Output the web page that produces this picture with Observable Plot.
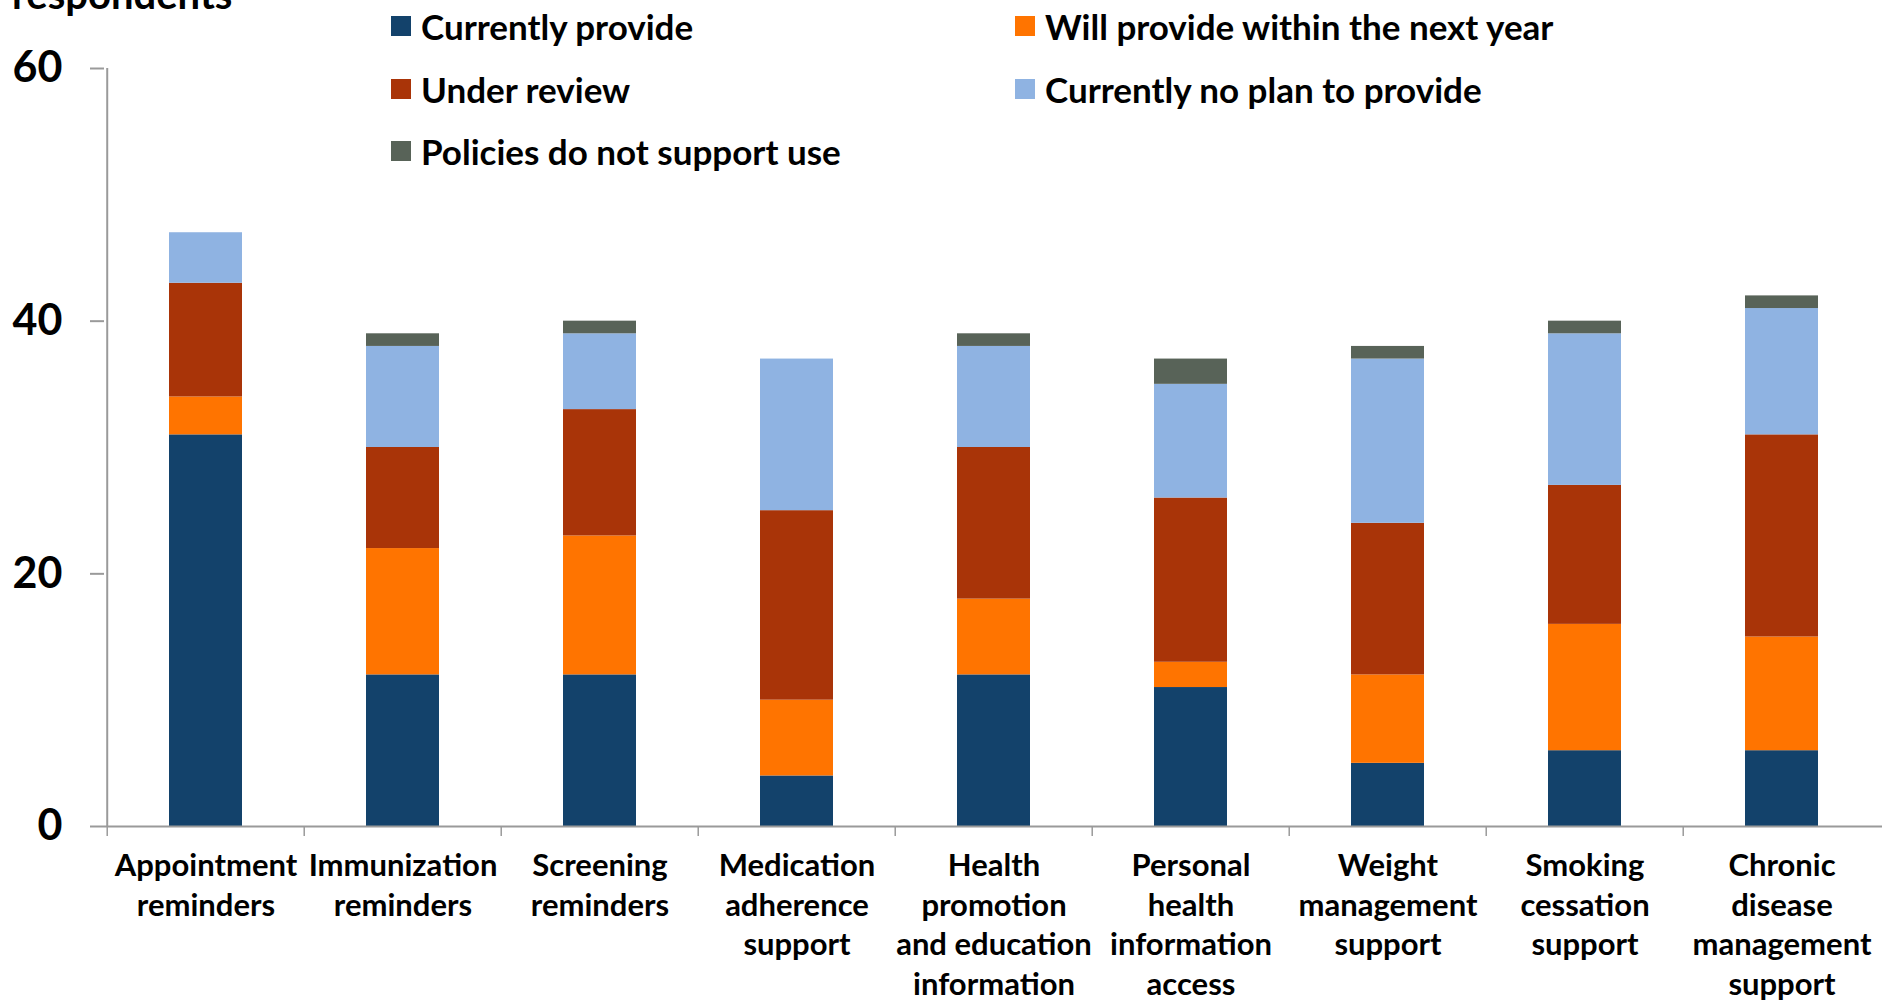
<!DOCTYPE html>
<html><head><meta charset="utf-8">
<script src="https://cdn.jsdelivr.net/npm/d3@7"></script>
<script src="https://cdn.jsdelivr.net/npm/@observablehq/plot@0.6"></script>
<style>
body{margin:0;background:#fff;overflow:hidden;font-family:Lato,"Open Sans",sans-serif;}
#wrap{position:relative;width:1882px;height:1003px;overflow:hidden;}
#ytitle{position:absolute;left:12px;top:-26px;font-size:40px;font-weight:bold;line-height:1;color:#000;white-space:nowrap;}
.leg{position:absolute;display:flex;align-items:center;font-size:35px;font-weight:bold;color:#000;white-space:nowrap;line-height:1;}
.leg span.sw{display:inline-block;width:20px;height:20px;margin-right:10px;}
#chart{position:absolute;left:0;top:0;}
</style></head><body>
<div id="wrap"><div id="chart"></div><div id="ytitle">respondents</div><div id="legend"></div></div>
<script>
const categories = ["Appointment\nreminders","Immunization\nreminders","Screening\nreminders","Medication\nadherence\nsupport","Health\npromotion\nand education\ninformation","Personal\nhealth\ninformation\naccess","Weight\nmanagement\nsupport","Smoking\ncessation\nsupport","Chronic\ndisease\nmanagement\nsupport"];
const statuses = ["Currently provide","Will provide within the next year","Under review","Currently no plan to provide","Policies do not support use"];
const colors = ["#13426B","#FF7400","#A93408","#8FB3E2","#586358"];
const currentlyProvide = [31,12,12,4,12,11,5,6,6];
const willProvide = [3,10,11,6,6,2,7,10,9];
const underReview = [9,8,10,15,12,13,12,11,16];
const noPlan = [4,8,6,12,8,9,13,12,10];
const policiesNoSupport = [0,1,1,0,1,2,1,1,1];
const yTicks = [0,20,40,60];

const series = [currentlyProvide, willProvide, underReview, noPlan, policiesNoSupport];
const data = [];
categories.forEach((c, i) => {
  statuses.forEach((s, j) => data.push({category: c, status: s, value: series[j][i]}));
});

const W = 1882, H = 1003, mL = 104, mR = 0, mT = 68, mB = 177;
const step = (W - mL - mR) / categories.length;
const axisColor = "#9a9a9a";

const chart = Plot.plot({
  width: W, height: H,
  marginLeft: mL, marginRight: mR, marginTop: mT, marginBottom: mB,
  style: {fontFamily: "Lato, 'Open Sans', sans-serif", background: "#fff", color: "#000", overflow: "visible"},
  x: {domain: categories, paddingInner: 0.63, paddingOuter: 0.315, label: null},
  y: {domain: [0, 60], label: null},
  color: {domain: statuses, range: colors},
  marks: [
    Plot.barY(data, {x: "category", y: "value", fill: "status", order: statuses}),
    Plot.ruleX([categories[0]], {dx: -step / 2, stroke: axisColor, strokeWidth: 2}),
    Plot.ruleY([0], {stroke: axisColor, strokeWidth: 2}),
    Plot.axisY({ticks: yTicks, tickSize: 14, tickPadding: 28, stroke: axisColor, strokeWidth: 2, fontSize: 43, fontWeight: "bold", fill: "#000", label: null}),
    Plot.axisX({tickSize: 10, tickFormat: () => "", dx: -step / 2, stroke: axisColor, strokeWidth: 1.5, label: null}),
    Plot.axisX({tickSize: 0, tickPadding: 22, fontSize: 31, fontWeight: "bold", fill: "#000", lineHeight: 1.27, label: null})
  ]
});
document.getElementById("chart").appendChild(chart);

const legendPos = [[391, 26], [1015, 26], [391, 89], [1015, 89], [391, 151]];
const legend = document.getElementById("legend");
statuses.forEach((s, j) => {
  const d = document.createElement("div");
  d.className = "leg";
  d.style.left = legendPos[j][0] + "px";
  d.style.top = (legendPos[j][1] - 18) + "px";
  d.style.height = "36px";
  d.innerHTML = `<span class="sw" style="background:${colors[j]}"></span>${s}`;
  legend.appendChild(d);
});
</script></body></html>
